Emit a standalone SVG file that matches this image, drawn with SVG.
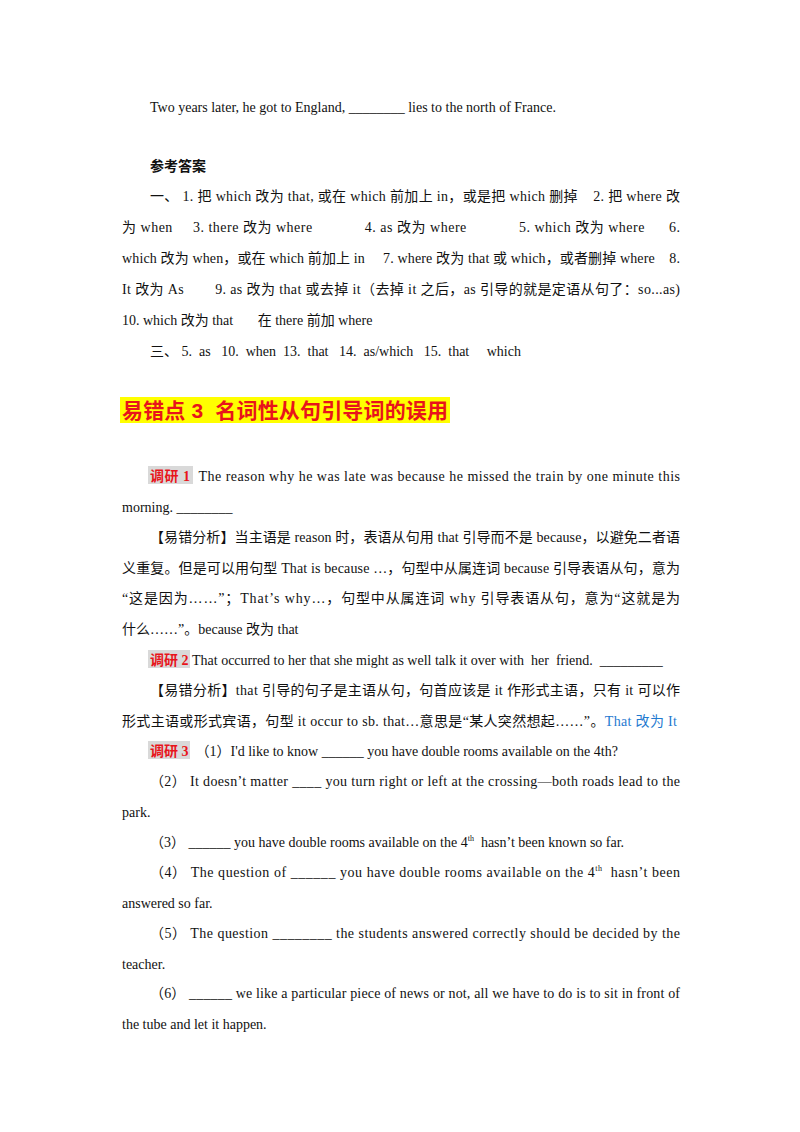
<svg xmlns="http://www.w3.org/2000/svg" width="800" height="1132" viewBox="0 0 800 1132">
<style>
text{font-family:"Liberation Serif","Noto Sans CJK SC",serif;font-size:14px;fill:#111;white-space:pre}
.r{fill:#e8141b;font-weight:bold}
.b{fill:#1f7ad0}
.h{font-family:"Liberation Sans","Noto Sans CJK SC",sans-serif;font-size:21px;font-weight:bold;fill:#e8141b}
.bd{font-weight:bold}
.g{fill:#d9d9d9}
</style>
<rect width="800" height="1132" fill="#fff"/>
<text x="150" y="112">Two years later, he got to England, ________ lies to the north of France.</text>
<text x="150" y="171" class="bd">参考答案</text>
<text xml:space="preserve" x="150" y="201" textLength="530" lengthAdjust="spacing">一、 1. 把 which 改为 that, 或在 which 前加上 in，或是把 which 删掉    2. 把 where 改</text>
<text xml:space="preserve" x="122" y="232" textLength="558" lengthAdjust="spacing">为 when     3. there 改为 where             4. as 改为 where             5. which 改为 where      6.</text>
<text xml:space="preserve" x="122" y="263" textLength="558" lengthAdjust="spacing">which 改为 when，或在 which 前加上 in     7. where 改为 that 或 which，或者删掉 where    8.</text>
<text xml:space="preserve" x="122" y="294" textLength="558" lengthAdjust="spacing">It 改为 As        9. as 改为 that 或去掉 it（去掉 it 之后，as 引导的就是定语从句了：so...as)</text>
<text xml:space="preserve" x="122" y="325">10. which 改为 that       在 there 前加 where</text>
<text xml:space="preserve" x="150" y="356">三、 5.  as   10.  when  13.  that   14.  as/which   15.  that     which</text>
<rect x="120" y="397" width="330" height="26" fill="#ffff00"/>
<text xml:space="preserve" x="122" y="418" class="h" textLength="326" lengthAdjust="spacing">易错点 3  名词性从句引导词的误用</text>
<rect x="148" y="466" width="45" height="18" class="g"/>
<text xml:space="preserve" x="150" y="481" textLength="530" lengthAdjust="spacing"><tspan class="r">调研 1</tspan>  The reason why he was late was because he missed the train by one minute this</text>
<text x="122" y="512">morning. ________</text>
<text x="150" y="542" textLength="530" lengthAdjust="spacing">【易错分析】当主语是 reason 时，表语从句用 that 引导而不是 because，以避免二者语</text>
<text x="122" y="573" textLength="558" lengthAdjust="spacing">义重复。但是可以用句型 That is because …，句型中从属连词 because 引导表语从句，意为</text>
<text x="122" y="603" textLength="558" lengthAdjust="spacing">“这是因为……”；That’s why…，句型中从属连词 why 引导表语从句，意为“这就是为</text>
<text x="122" y="634">什么……”。because 改为 that</text>
<rect x="148" y="650" width="42" height="18" class="g"/>
<text xml:space="preserve" x="150" y="665"><tspan class="r">调研 2</tspan> That occurred to her that she might as well talk it over with  her  friend.  _________</text>
<text x="150" y="695" textLength="530" lengthAdjust="spacing">【易错分析】that 引导的句子是主语从句，句首应该是 it 作形式主语，只有 it 可以作</text>
<text x="122" y="726" textLength="555" lengthAdjust="spacing">形式主语或形式宾语，句型 it occur to sb. that…意思是“某人突然想起……”。<tspan class="b">That 改为 It</tspan></text>
<rect x="148" y="741" width="42" height="18" class="g"/>
<text xml:space="preserve" x="150" y="756"><tspan class="r">调研 3</tspan>  （1）I'd like to know ______ you have double rooms available on the 4th?</text>
<text x="150" y="786" textLength="530" lengthAdjust="spacing">（2） It doesn’t matter ____ you turn right or left at the crossing—both roads lead to the</text>
<text x="122" y="817">park.</text>
<text xml:space="preserve" x="150" y="847">（3） ______ you have double rooms available on the 4<tspan font-size="8" dy="-6">th</tspan><tspan dy="6">  hasn’t been known so far.</tspan></text>
<text xml:space="preserve" x="150" y="877" textLength="530" lengthAdjust="spacing">（4） The question of ______ you have double rooms available on the 4<tspan font-size="8" dy="-6">th</tspan><tspan dy="6">  hasn’t been</tspan></text>
<text x="122" y="908">answered so far.</text>
<text x="150" y="938" textLength="530" lengthAdjust="spacing">（5） The question ________ the students answered correctly should be decided by the</text>
<text x="122" y="969">teacher.</text>
<text x="150" y="998" textLength="530" lengthAdjust="spacing">（6） ______ we like a particular piece of news or not, all we have to do is to sit in front of</text>
<text x="122" y="1029">the tube and let it happen.</text>
</svg>
